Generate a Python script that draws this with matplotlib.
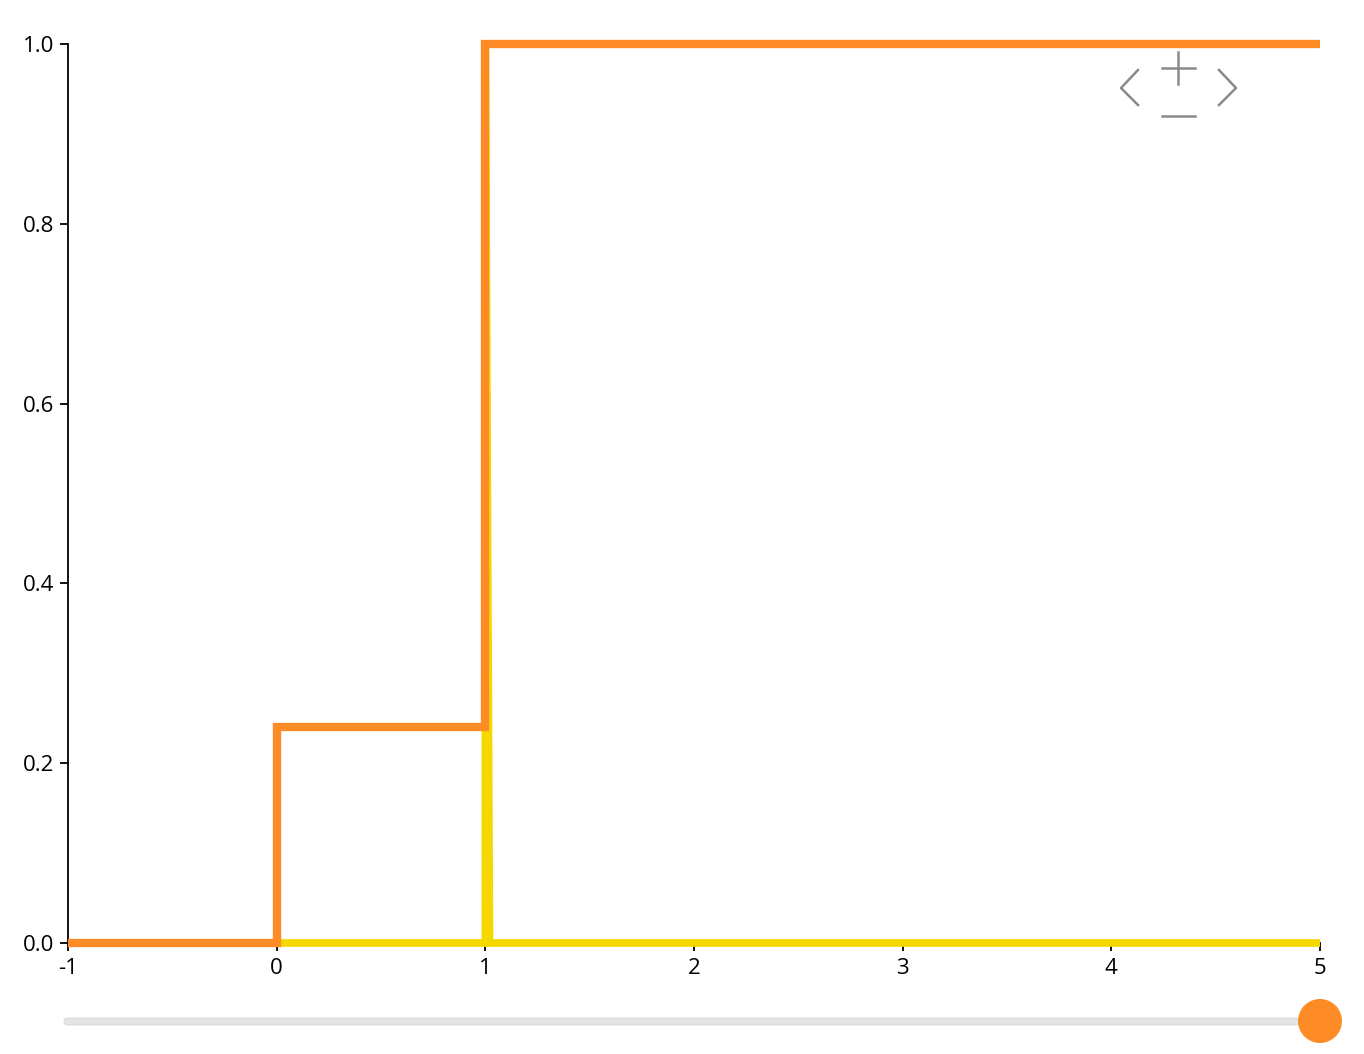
import matplotlib.pyplot as plt
from matplotlib.lines import Line2D
from matplotlib.patches import Circle, FancyBboxPatch

plt.rcParams['font.family'] = ['Open Sans', 'DejaVu Sans']

# step curves
cdf_x = [-1, 0, 0, 1, 1, 5]
cdf_y = [0, 0, 0.24, 0.24, 1.0, 1.0]
pmf_x = [0.01, 1, 1, 1.02, 5]
pmf_y = [0, 0, 1.0, 0, 0]
xticks = [-1, 0, 1, 2, 3, 4, 5]
yticks = [0.0, 0.2, 0.4, 0.6, 0.8, 1.0]

W, H = 1364, 1054
fig = plt.figure(figsize=(W / 100, H / 100), dpi=100)
ax = fig.add_axes([68 / W, 1 - 943 / H, (1320 - 68) / W, (943 - 44) / H])

ax.plot(pmf_x, pmf_y, color='#f5d800', lw=5.5, solid_joinstyle='miter',
        solid_capstyle='butt', clip_on=False, zorder=4)
ax.plot(cdf_x, cdf_y, color='#fd8c26', lw=6, solid_joinstyle='miter',
        solid_capstyle='butt', clip_on=False, zorder=5)

ax.set_xlim(-1, 5)
ax.set_ylim(0, 1)
ax.set_xticks(xticks)
ax.set_xticklabels([str(t) for t in xticks])
ax.set_yticks(yticks)
ax.set_yticklabels([f'{t:.1f}' for t in yticks])
for s in ['top', 'right']:
    ax.spines[s].set_visible(False)
for s in ['left', 'bottom']:
    ax.spines[s].set_linewidth(1.3)
ax.tick_params(length=6, width=1.3, labelsize=16, colors='black')
ax.tick_params(axis='x', pad=5)
ax.tick_params(axis='y', pad=4)


def px(x, y):
    return x / W, 1 - y / H


# zoom controls
gray = '#8a8a8a'
segs = [
    [(1138, 70), (1121, 88), (1138, 105)],
    [(1219, 70), (1236, 88), (1219, 105)],
    [(1162, 68), (1195, 68)],
    [(1178, 52), (1178, 84)],
    [(1162, 116), (1195, 116)],
]
for seg in segs:
    xs, ys = zip(*[px(x, y) for x, y in seg])
    fig.add_artist(Line2D(xs, ys, color=gray, lw=1.8))

# slider
x0, y0 = px(64, 1025)
track = FancyBboxPatch((x0, y0), (1300 - 64) / W, 7 / H,
                       boxstyle='round,pad=0,rounding_size=0.003',
                       transform=fig.transFigure, facecolor='#e4e4e4',
                       edgecolor='#d8d8d8', lw=0.6)
fig.add_artist(track)
cx, cy = 1320, 1021
knob = Circle((cx, H - cy), 22, transform=None, facecolor='#fd8c26', edgecolor='none')
fig.add_artist(knob)

fig.savefig('out.png', dpi=100)
